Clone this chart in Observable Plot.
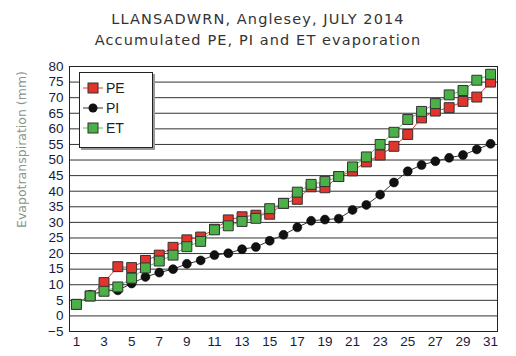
<!DOCTYPE html>
<html><head><meta charset="utf-8">
<script src="https://cdn.jsdelivr.net/npm/d3@7"></script>
<script src="https://cdn.jsdelivr.net/npm/@observablehq/plot@0.6"></script>
<style>
body{margin:0;background:#fff;}
#wrap{position:relative;width:516px;height:356px;overflow:hidden;}
#title{position:absolute;left:0;top:9px;width:516px;text-align:center;font-family:"DejaVu Sans",Verdana,sans-serif;line-height:21px;color:#333;font-size:14.5px;letter-spacing:1.1px;}
#chart{position:absolute;left:0;top:50px;}
#legend{position:absolute;left:79px;top:72px;width:72px;height:69px;border:1px solid #222;background:#fff;box-shadow:2px 2px 0 #999;padding-top:5px;box-sizing:content-box;}
.row{height:20px;display:flex;align-items:center;font-family:"Liberation Sans",Arial,sans-serif;font-size:14px;color:#222;}
.row svg{margin-left:3px;margin-right:3px;}
</style></head>
<body>
<div id="wrap">
  <div id="title"><div>LLANSADWRN, Anglesey, JULY 2014</div><div>Accumulated PE, PI and ET evaporation</div></div>
  <div id="chart"></div>
  <div id="legend"></div>
</div>
<script>
const days = [1,2,3,4,5,6,7,8,9,10,11,12,13,14,15,16,17,18,19,20,21,22,23,24,25,26,27,28,29,30,31];
const pe = [3.7,6.4,10.7,15.8,15.5,17.8,19.5,22.0,24.4,25.3,27.8,30.8,31.8,32.3,32.6,36.1,37.4,41.4,41.1,44.7,46.5,49.4,51.6,54.4,58.2,63.5,65.7,66.8,68.8,70.2,75.0];
const pi = [3.7,6.8,8.0,8.2,10.4,12.5,13.9,15.0,16.7,17.8,19.5,20.1,21.4,22.1,24.1,26.0,28.4,30.5,30.9,31.2,34.0,35.6,38.9,42.8,46.4,48.4,49.6,50.7,51.6,53.4,55.2];
const et = [3.7,6.4,7.9,9.3,12.1,15.4,17.6,19.5,22.2,23.9,27.6,28.9,30.3,31.3,34.4,36.1,39.7,42.2,43.1,44.7,47.8,51.0,55.0,58.9,63.0,65.6,68.1,70.9,72.3,75.6,77.5];
const xTicks = [1,3,5,7,9,11,13,15,17,19,21,23,25,27,29,31];
const yTicks = [-5,0,5,10,15,20,25,30,35,40,45,50,55,60,65,70,75,80];
const seriesNames = ["PE","PI","ET"];
const yLabel = "Evapotranspiration (mm)";

const colors = {PE:"#e0342c", PI:"#111111", ET:"#4cb048"};
const lineColors = {PE:"#e04038", PI:"#333333", ET:"#5cbc58"};

const rows = (name, vals) => days.map((d,i)=>({day:d, v:vals[i], s:name}));
const dPE = rows("PE", pe), dPI = rows("PI", pi), dET = rows("ET", et);

const chart = Plot.plot({
  width: 516, height: 306,
  marginTop: 16, marginBottom: 25, marginLeft: 69, marginRight: 19,
  style: {fontFamily: "'Liberation Sans', Arial, sans-serif", fontSize: "13.5px", color: "#1a1a40", background: "#fff"},
  x: {domain: [0.5, 31.5], ticks: xTicks, tickSize: 0, tickPadding: 5, label: null, tickFormat: d => String(d)},
  y: {domain: [-5, 80], ticks: yTicks, tickSize: 0, tickPadding: 6, label: null},
  marks: [
    Plot.ruleY(yTicks, {stroke: "#333", strokeWidth: 1}),
    Plot.frame({stroke: "#222", strokeWidth: 1}),
    Plot.line(dPI, {x: "day", y: "v", stroke: lineColors.PI, strokeWidth: 1}),
    Plot.dot(dPI, {x: "day", y: "v", r: 4.5, fill: colors.PI, stroke: "#000", strokeWidth: 0.5}),
    Plot.line(dPE, {x: "day", y: "v", stroke: lineColors.PE, strokeWidth: 1}),
    Plot.dot(dPE, {x: "day", y: "v", symbol: "square", r: 5.6, fill: colors.PE, stroke: "#333", strokeWidth: 1}),
    Plot.line(dET, {x: "day", y: "v", stroke: lineColors.ET, strokeWidth: 1}),
    Plot.dot(dET, {x: "day", y: "v", symbol: "square", r: 5.6, fill: colors.ET, stroke: "#333", strokeWidth: 1}),
    Plot.text([yLabel], {text: d => d, frameAnchor: "top-left", textAnchor: "middle", lineAnchor: "middle", dx: -48, dy: 83, rotate: -90, fill: "#86968a", fontFamily: "'DejaVu Sans', Verdana, sans-serif", fontSize: 12.5})
  ]
});
document.getElementById("chart").appendChild(chart);

const legend = document.getElementById("legend");
for (const s of seriesNames) {
  const row = document.createElement("div");
  row.className = "row";
  const marker = s === "PI"
    ? `<circle cx="10" cy="10" r="4.5" fill="${colors.PI}"/>`
    : `<rect x="5" y="5" width="10" height="10" fill="${colors[s]}" stroke="#333" stroke-width="1"/>`;
  row.innerHTML = `<svg width="20" height="20"><line x1="0" y1="10" x2="20" y2="10" stroke="${lineColors[s]}" stroke-width="1"/>${marker}</svg><span>${s}</span>`;
  legend.appendChild(row);
}
</script>
</body></html>
